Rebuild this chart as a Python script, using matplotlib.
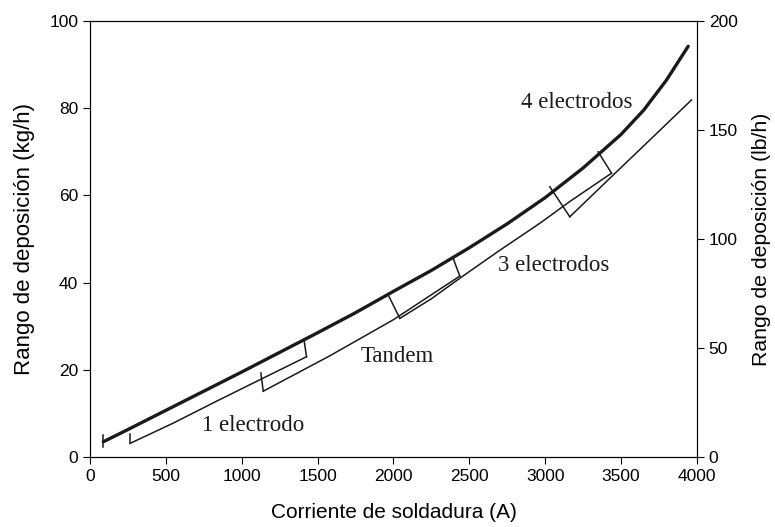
import matplotlib
matplotlib.use("Agg")
import matplotlib.pyplot as plt

# envelope (thick curve)
env_amps = [88, 250, 500, 750, 1000, 1250, 1500, 1750, 2000, 2250, 2500, 2750, 3000, 3250, 3500, 3650, 3800, 3942]
env_kgh = [3.5, 6.3, 10.7, 15.1, 19.5, 24.0, 28.5, 33.1, 38.0, 42.8, 48.0, 53.5, 59.5, 66.3, 74.0, 79.6, 86.5, 94.2]

# individual process lines
one_amps = [263, 550, 834, 1130, 1427]
one_kgh = [3.1, 7.8, 12.8, 17.9, 23.0]
tandem_amps = [1142, 1580, 2000, 2437]
tandem_kgh = [15.1, 23.2, 31.5, 41.5]
three_amps = [2042, 2250, 2437, 2700, 2964, 3162, 3437]
three_kgh = [31.8, 36.3, 41.0, 47.4, 53.6, 58.6, 65.1]
four_amps = [3162, 3437, 3689, 3964]
four_kgh = [55.1, 64.3, 72.7, 81.9]

# bracket ticks joining the envelope and the process lines: (x_top, y_top, x_bot, y_bot)
brackets = [
    (88, 5.0, 88, 2.4),
    (263, 5.3, 263, 3.1),
    (1410, 27.0, 1427, 23.0),
    (1126, 19.3, 1142, 15.1),
    (2393, 45.6, 2437, 41.5),
    (1965, 37.2, 2042, 31.8),
    (3349, 70.0, 3437, 65.1),
    (3030, 62.0, 3162, 55.1),
]

labels = ["1 electrodo", "Tandem", "3 electrodos", "4 electrodos"]
label_x = [1074, 2022, 3056, 3208]
label_y = [7.3, 23.0, 44.0, 81.4]

plt.rcParams["font.family"] = ["Liberation Sans", "DejaVu Sans"]
fig = plt.figure(figsize=(7.75, 5.27), dpi=100)
ax = fig.add_axes([0.1161, 0.1328, 0.7832, 0.8273])

ink = "#1a1a1a"
ax.plot(env_amps, env_kgh, color=ink, lw=2.4, solid_capstyle="round")
for xs, ys in [(one_amps, one_kgh), (tandem_amps, tandem_kgh),
               (three_amps, three_kgh), (four_amps, four_kgh)]:
    ax.plot(xs, ys, color=ink, lw=1.1)
for x0, y0, x1, y1 in brackets:
    ax.plot([x0, x1], [y0, y1], color=ink, lw=1.1)

for txt, x, y in zip(labels, label_x, label_y):
    ax.text(x, y, txt, ha="center", va="center", fontsize=16.5,
            family=["Liberation Serif", "DejaVu Serif"], color=ink)

ax.set_xlim(0, 4000)
ax.set_ylim(0, 100)
ax.set_xticks(range(0, 4001, 500))
ax.set_yticks(range(0, 101, 20))
ax.set_xlabel("Corriente de soldadura (A)", fontsize=15, labelpad=14)
ax.set_ylabel("Rango de deposición (kg/h)", fontsize=16, labelpad=10)
ax.tick_params(labelsize=12.5, length=5, direction="out")

ax2 = ax.twinx()
ax2.set_ylim(0, 200)
ax2.set_yticks(range(0, 201, 50))
ax2.set_ylabel("Rango de deposición (lb/h)", fontsize=15.3, labelpad=10)
ax2.tick_params(labelsize=12.5, length=5, direction="out")

fig.savefig("out.png", dpi=100)
